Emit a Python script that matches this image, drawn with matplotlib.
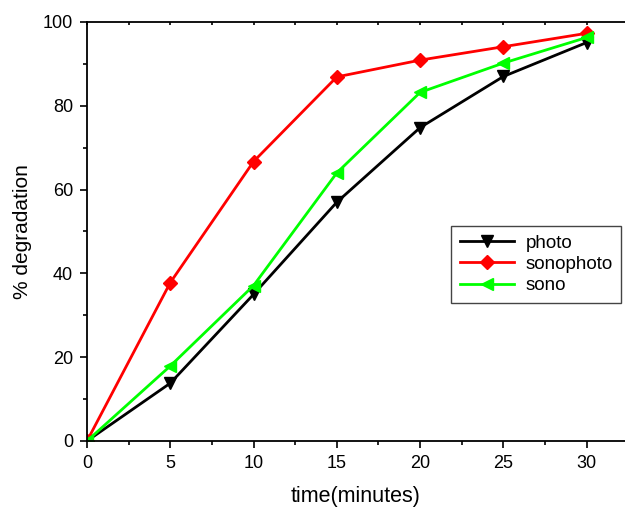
import matplotlib
matplotlib.use("Agg")
import matplotlib.pyplot as plt
from matplotlib.ticker import MultipleLocator

# -----------------------------
# Data
# -----------------------------
TIME_MIN = [0, 5, 10, 15, 20, 25, 30]
PHOTO = [0, 13.8, 35.0, 57.0, 74.8, 87.0, 95.1]
SONOPHOTO = [0, 37.8, 66.7, 86.9, 90.9, 94.1, 97.3]
SONO = [0, 17.9, 37.1, 64.0, 83.2, 90.2, 96.3]

SERIES = [
    ("photo", PHOTO, "#000000", "v"),
    ("sonophoto", SONOPHOTO, "#ff0000", "D"),
    ("sono", SONO, "#00ff00", "<"),
]

plt.rcParams["font.family"] = ["Liberation Sans", "DejaVu Sans"]

fig = plt.figure(figsize=(6.25, 5.09), dpi=100)
ax = fig.add_axes([0.1392, 0.1336, 0.8608, 0.8232])

for label, values, color, marker in SERIES:
    ms = 7.5 if marker == "D" else 8.5
    ax.plot(TIME_MIN, values, color=color, marker=marker, markersize=ms,
            linewidth=2.0, label=label)

ax.set_xlim(0, 32.3)
ax.set_ylim(0, 100)
ax.xaxis.set_major_locator(MultipleLocator(5))
ax.xaxis.set_minor_locator(MultipleLocator(2.5))
ax.yaxis.set_major_locator(MultipleLocator(20))
ax.yaxis.set_minor_locator(MultipleLocator(10))

ax.spines["right"].set_visible(False)
for side in ["left", "bottom", "top"]:
    ax.spines[side].set_linewidth(1.3)

# outward ticks on left/bottom, tiny inward marks along the top spine
ax.tick_params(which="major", direction="out", length=5, width=1.2,
               labelsize=13, pad=5)
ax.tick_params(which="minor", direction="out", length=3, width=1.2)
ax.xaxis.set_tick_params(which="both", top=True)
for tick in ax.xaxis.get_major_ticks() + ax.xaxis.get_minor_ticks():
    tick.tick2line.set_markersize(2)
    tick.tick2line.set_marker(3)  # TICKDOWN, points into the axes

ax.set_xlabel("time(minutes)", fontsize=15.5, labelpad=10)
ax.set_ylabel("% degradation", fontsize=15, labelpad=8)

leg = ax.legend(loc="upper left", bbox_to_anchor=(0.6775, 0.513),
                borderaxespad=0, fontsize=13.5, handlelength=2.9,
                handletextpad=0.6, borderpad=0.45, labelspacing=0.22,
                fancybox=False, framealpha=1.0)
leg.get_frame().set_edgecolor("#444444")
leg.get_frame().set_linewidth(1.0)

fig.savefig("out.png", dpi=100)
